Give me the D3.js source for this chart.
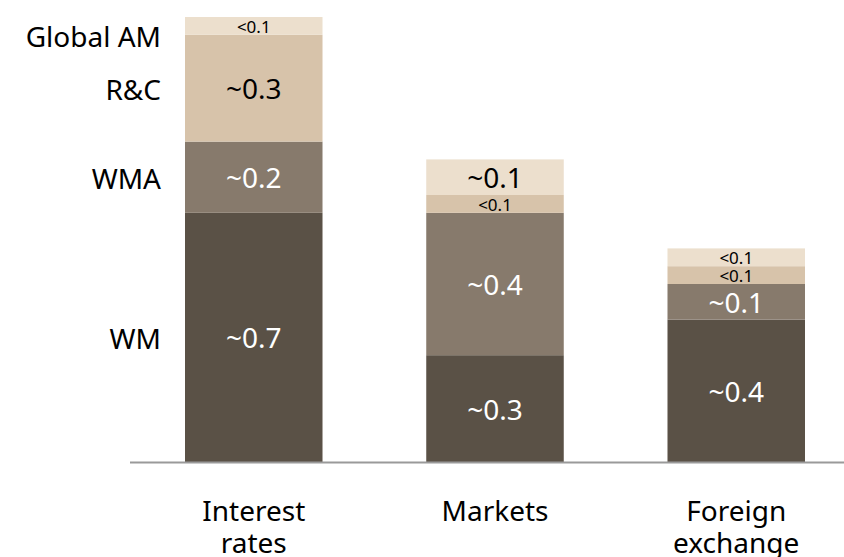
<!DOCTYPE html>
<html>
<head>
<meta charset="utf-8">
<script src="https://cdn.jsdelivr.net/npm/d3@7"></script>
<style>
  body { margin: 0; background: #fff; }
  svg { display: block; font-family: 'Noto Sans', sans-serif; }
</style>
</head>
<body>
<svg id="chart" width="844" height="557"></svg>
<script>
const categories = [['Interest', 'rates'], ['Markets'], ['Foreign', 'exchange']];
const series = ['WM', 'WMA', 'R&C', 'Global AM'];
const values = {
  'WM': [0.7, 0.3, 0.4],
  'WMA': [0.2, 0.4, 0.1],
  'R&C': [0.3, 0.05, 0.05],
  'Global AM': [0.05, 0.1, 0.05]
};
const labels = {
  'WM': ['~0.7', '~0.3', '~0.4'],
  'WMA': ['~0.2', '~0.4', '~0.1'],
  'R&C': ['~0.3', '<0.1', '<0.1'],
  'Global AM': ['<0.1', '~0.1', '<0.1']
};
const colors = ['#5a5146', '#877a6c', '#d7c3aa', '#ecdfcd'];
const textColors = ['#fff', '#fff', '#000', '#000'];

const svg = d3.select('#chart');
const baseY = 462;

const rows = categories.map((c, i) => {
  let r = {key: i};
  series.forEach(s => { r[s] = values[s][i]; });
  return r;
});
const stacked = d3.stack().keys(series)(rows);

const x = d3.scaleBand()
    .domain(d3.range(categories.length))
    .range([185, 805])
    .paddingInner(0.43)
    .paddingOuter(0);

const y = d3.scaleLinear().domain([0, 1.25]).range([baseY, baseY - 1.25 * 356]);

const layer = svg.selectAll('g.layer')
  .data(stacked)
  .enter().append('g')
    .attr('class', 'layer')
    .attr('fill', (d, i) => colors[i]);

layer.selectAll('rect')
  .data(d => d)
  .enter().append('rect')
    .attr('x', (d, i) => x(i))
    .attr('width', x.bandwidth())
    .attr('y', d => y(d[1]))
    .attr('height', d => y(d[0]) - y(d[1]));

// value labels
stacked.forEach((s, si) => {
  svg.append('g').selectAll('text')
    .data(s)
    .enter().append('text')
      .attr('x', (d, i) => x(i) + x.bandwidth() / 2)
      .attr('y', d => y((d[0] + d[1]) / 2) + 1)
      .attr('dy', '0.36em')
      .attr('text-anchor', 'middle')
      .attr('fill', textColors[si])
      .style('font-size', (d, i) => labels[s.key][i][0] === '<' ? '17px' : '28px')
      .text((d, i) => labels[s.key][i]);
});

// series names on the left, next to the first bar
svg.append('g').selectAll('text')
  .data(stacked)
  .enter().append('text')
    .attr('x', 161)
    .attr('y', (d, i) => y((d[0][0] + d[0][1]) / 2) + (i === series.length - 1 ? 11 : 2))
    .attr('dy', '0.36em')
    .attr('text-anchor', 'end')
    .attr('fill', '#000')
    .style('font-size', '28px')
    .text(d => d.key);

// baseline
svg.append('line')
    .attr('x1', 130).attr('x2', 844)
    .attr('y1', y(0) + 0.5).attr('y2', y(0) + 0.5)
    .attr('stroke', '#9a9a9a')
    .attr('stroke-width', 2);

// category labels
const cat = svg.append('g').selectAll('text')
  .data(categories)
  .enter().append('text')
    .attr('x', (d, i) => x(i) + x.bandwidth() / 2)
    .attr('y', 521)
    .attr('text-anchor', 'middle')
    .attr('fill', '#000')
    .style('font-size', '28px');

cat.selectAll('tspan')
  .data(d => d)
  .enter().append('tspan')
    .attr('x', function () { return d3.select(this.parentNode).attr('x'); })
    .attr('dy', (d, i) => i === 0 ? 0 : 32)
    .text(d => d);
</script>
</body>
</html>
